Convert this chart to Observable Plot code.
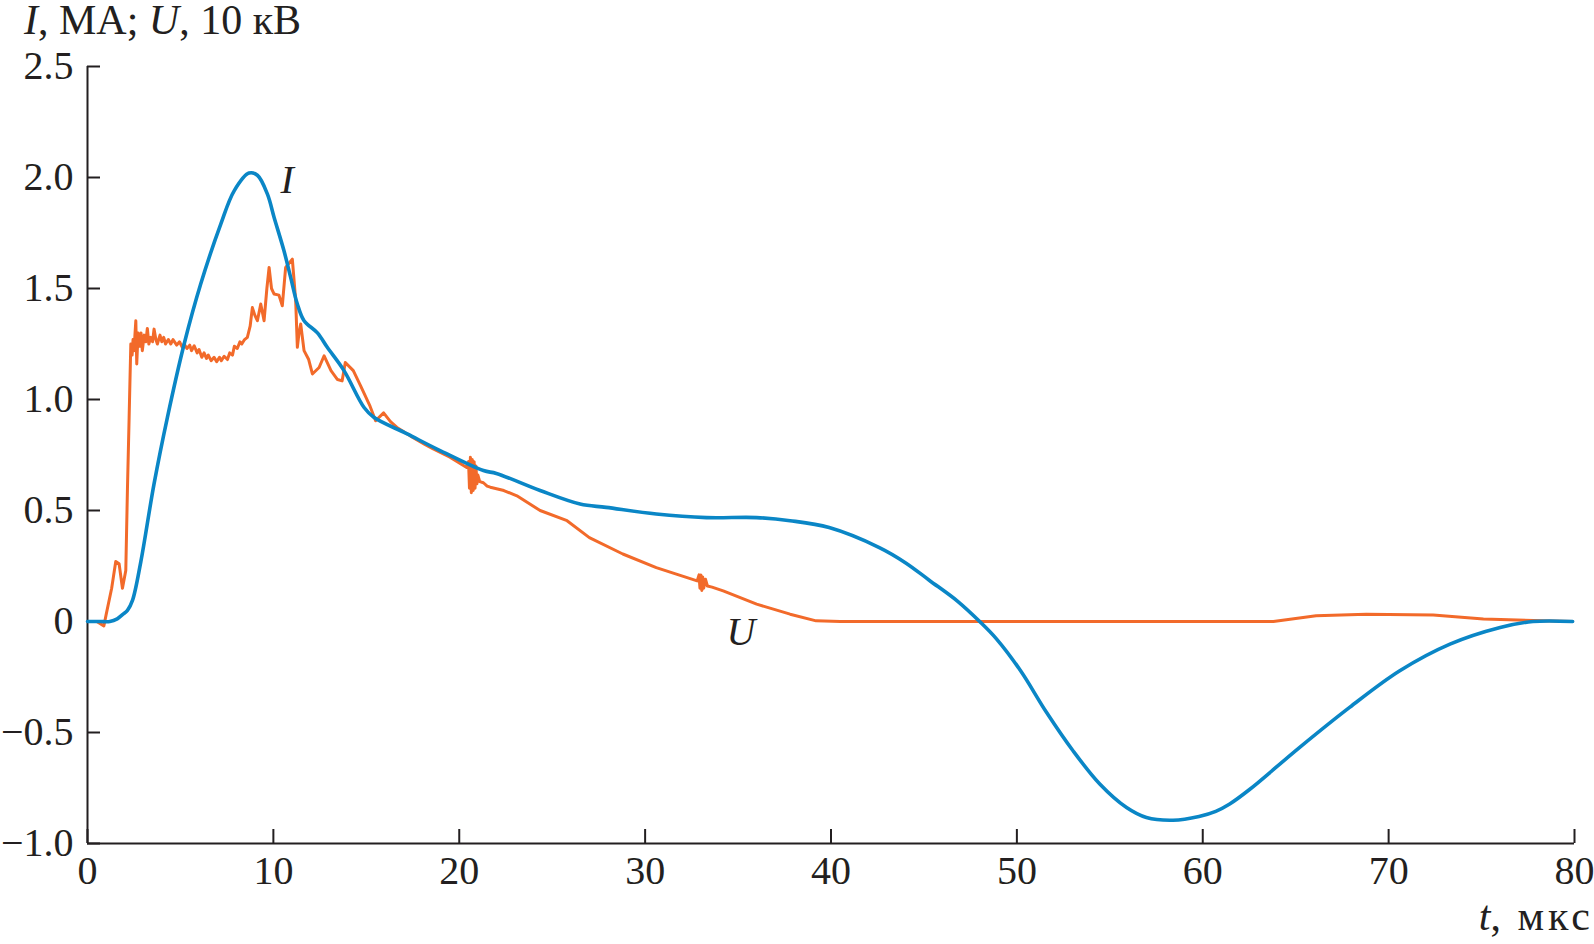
<!DOCTYPE html>
<html>
<head>
<meta charset="utf-8">
<script src="https://cdn.jsdelivr.net/npm/d3@7"></script>
<script src="https://cdn.jsdelivr.net/npm/@observablehq/plot@0.6"></script>
<style>
  html, body { margin: 0; padding: 0; background: #fff; }
  body { width: 1594px; height: 944px; overflow: hidden; font-family: "Liberation Serif", "Times New Roman", serif; color: #231f20; }
  #title { height: 40px; line-height: 40px; font-size: 42px; padding-left: 24px; white-space: nowrap; }
  #xlabel { height: 48px; line-height: 40px; font-size: 42px; text-align: right; padding-right: 0px; white-space: nowrap; word-spacing: 6px; }
  #xlabel span { letter-spacing: 4px; }
  #chart svg { display: block; }
</style>
</head>
<body>
<div id="title"><i>I</i>, МА; <i>U</i>, 10 кВ</div>
<div id="chart"></div>
<div id="xlabel"><i>t</i>, <span>мкс</span></div>
<script>
// Current I (MA)
const tI = [0, 0.7, 1.2, 1.6, 1.9, 2.15, 2.42, 2.87, 3.58, 4.30, 5.2, 6.09, 7.17, 7.89, 8.69, 9.14, 9.68, 10.04, 10.57, 10.93, 11.29, 11.65, 12.37, 12.9, 13.8, 14.88, 15.4, 17.2, 18.8, 21.3, 22.0, 24.35, 26.5, 27.9, 30.6, 33.3, 36.0, 37.8, 39.9, 42.6, 44.0, 45.3, 46.8, 48.0, 48.9, 50.2, 51.6, 53.0, 54.46, 55.9, 56.97, 58.4, 59.8, 60.7, 61.45, 62.5, 65.2, 67.9, 70.6, 73.3, 76.0, 77.76, 79.9];
const vI = [0, 0, 0, 0.012, 0.032, 0.05, 0.095, 0.27, 0.62, 0.92, 1.25, 1.52, 1.79, 1.94, 2.02, 2.01, 1.925, 1.82, 1.67, 1.55, 1.43, 1.355, 1.30, 1.235, 1.13, 0.964, 0.92, 0.845, 0.777, 0.68, 0.667, 0.59, 0.529, 0.514, 0.484, 0.468, 0.468, 0.454, 0.423, 0.333, 0.265, 0.185, 0.092, 0.0, -0.078, -0.222, -0.41, -0.58, -0.732, -0.838, -0.883, -0.895, -0.878, -0.855, -0.822, -0.758, -0.568, -0.387, -0.222, -0.102, -0.027, 0, 0];

// Voltage U (10 kV)
const tU = [0.0, 0.5, 0.88, 1.0, 1.3, 1.52, 1.7, 1.88, 2.06, 2.15, 2.24, 2.33, 2.4, 2.45, 2.5, 2.6, 2.65, 2.72, 2.8, 2.88, 2.95, 3.05, 3.14, 3.22, 3.3, 3.4, 3.5, 3.58, 3.68, 3.76, 3.9, 4.0, 4.1, 4.2, 4.35, 4.48, 4.6, 4.8, 4.95, 5.1, 5.2, 5.35, 5.5, 5.6, 5.74, 5.9, 6.0, 6.15, 6.27, 6.4, 6.5, 6.65, 6.81, 6.95, 7.1, 7.2, 7.35, 7.53, 7.65, 7.8, 7.9, 8.06, 8.2, 8.3, 8.45, 8.6, 8.75, 8.87, 9.0, 9.14, 9.32, 9.5, 9.65, 9.77, 9.9, 10.04, 10.3, 10.48, 10.66, 11.02, 11.1, 11.2, 11.29, 11.38, 11.47, 11.65, 11.9, 12.1, 12.46, 12.73, 13.1, 13.45, 13.7, 13.87, 14.3, 14.7, 15.2, 15.5, 15.93, 16.3, 16.65, 17.1, 17.5, 18.1, 18.6, 19.5, 20.4, 20.5, 20.55, 20.6, 20.65, 20.7, 20.75, 20.8, 20.85, 20.9, 20.95, 21.0, 21.1, 21.3, 21.5, 21.67, 22.4, 23.1, 24.35, 25.8, 27.0, 28.8, 30.6, 32.8, 32.9, 32.95, 33.0, 33.05, 33.1, 33.15, 33.25, 33.35, 33.6, 34.2, 36.0, 37.8, 39.2, 40.5, 50, 60, 63.8, 66.1, 68.8, 72.4, 75.1, 79.9];
const vU = [0.0, 0.0, -0.02, 0.03, 0.15, 0.27, 0.26, 0.15, 0.23, 0.6, 0.92, 1.25, 1.2, 1.27, 1.22, 1.355, 1.16, 1.3, 1.24, 1.3, 1.22, 1.29, 1.26, 1.32, 1.25, 1.28, 1.26, 1.317, 1.27, 1.25, 1.29, 1.26, 1.28, 1.25, 1.27, 1.25, 1.27, 1.245, 1.26, 1.235, 1.25, 1.23, 1.245, 1.22, 1.242, 1.21, 1.225, 1.19, 1.21, 1.185, 1.2, 1.175, 1.19, 1.17, 1.19, 1.175, 1.195, 1.18, 1.21, 1.2, 1.24, 1.23, 1.26, 1.25, 1.27, 1.28, 1.33, 1.414, 1.38, 1.355, 1.43, 1.355, 1.5, 1.595, 1.5, 1.475, 1.47, 1.422, 1.595, 1.632, 1.55, 1.445, 1.235, 1.3, 1.34, 1.22, 1.18, 1.115, 1.144, 1.197, 1.13, 1.09, 1.084, 1.167, 1.13, 1.06, 0.97, 0.904, 0.94, 0.9, 0.874, 0.85, 0.829, 0.8, 0.777, 0.74, 0.694, 0.72, 0.6, 0.74, 0.58, 0.73, 0.59, 0.72, 0.6, 0.7, 0.62, 0.66, 0.63, 0.625, 0.61, 0.605, 0.59, 0.566, 0.5, 0.454, 0.378, 0.304, 0.243, 0.183, 0.21, 0.15, 0.21, 0.14, 0.2, 0.15, 0.19, 0.16, 0.155, 0.138, 0.078, 0.033, 0.003, 0, 0, 0, 0, 0.026, 0.033, 0.029, 0.011, 0];

const xTicks = [0, 10, 20, 30, 40, 50, 60, 70, 80];
const yTicks = [-1.0, -0.5, 0, 0.5, 1.0, 1.5, 2.0, 2.5];

const curveLabels = ["I", "U"];
const labelT = [10.74, 35.16];
const labelV = [1.99, -0.05];

const rowsI = tI.map((t, i) => ({t, v: vI[i]}));
const rowsU = tU.map((t, i) => ({t, v: vU[i]}));
const rowsLab = curveLabels.map((s, i) => ({s, t: labelT[i], v: labelV[i]}));

const fmtY = d => d === 0 ? "0" : d.toFixed(1).replace("-", "\u2212");
const ink = "#231f20";

const chart = Plot.plot({
  width: 1594,
  height: 856,
  marginLeft: 87,
  marginRight: 20,
  marginTop: 26,
  marginBottom: 53,
  style: {fontFamily: "'Liberation Serif', 'Times New Roman', serif", fontSize: "40px", color: ink, background: "#fff"},
  x: {domain: [0, 80]},
  y: {domain: [-1, 2.5]},
  marks: [
    Plot.axisX(xTicks, {tickSize: -14, tickPadding: 26, strokeWidth: 2, stroke: ink, fill: ink, fontSize: 40, label: null, tickFormat: d => String(d)}),
    Plot.axisY(yTicks, {tickSize: -13, tickPadding: 27, strokeWidth: 2, stroke: ink, fill: ink, fontSize: 40, label: null, tickFormat: fmtY}),
    Plot.ruleX([0], {stroke: ink, strokeWidth: 2}),
    Plot.ruleY([-1], {stroke: ink, strokeWidth: 2}),
    Plot.line(rowsU, {x: "t", y: "v", stroke: "#f26a2a", strokeWidth: 3, curve: "linear", strokeLinejoin: "round"}),
    Plot.line(rowsI, {x: "t", y: "v", stroke: "#0a86c6", strokeWidth: 3.6, curve: "catmull-rom"}),
    Plot.text(rowsLab, {x: "t", y: "v", text: "s", fontStyle: "italic", fontSize: 40, fill: ink})
  ]
});
document.getElementById("chart").appendChild(chart);
</script>
</body>
</html>
